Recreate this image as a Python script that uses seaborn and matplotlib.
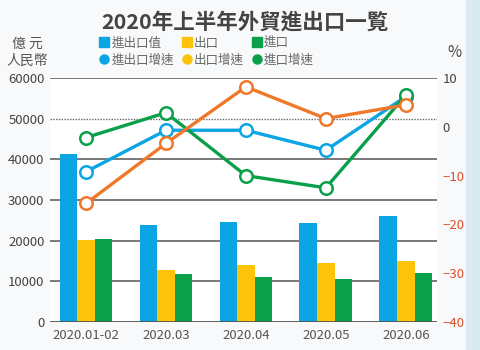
import seaborn as sns
import matplotlib.pyplot as plt
import pandas as pd
from matplotlib.lines import Line2D
from matplotlib.patches import Rectangle

months = ['2020.01-02', '2020.03', '2020.04', '2020.05', '2020.06']
total = [41400, 23800, 24500, 24300, 26000]
exports = [20200, 12700, 14000, 14400, 14900]
imports = [20400, 11700, 11100, 10500, 12000]
total_growth = [-9.2, -0.7, -0.7, -4.8, 6.2]
export_growth = [-15.7, -3.4, 8.2, 1.7, 4.5]
import_growth = [-2.2, 2.9, -10.0, -12.5, 6.5]

blue = '#0aa5e2'
yellow = '#fcc30a'
green = '#0aa049'
orange = '#f0782a'

plt.rcParams['font.family'] = ['Noto Sans CJK TC', 'DejaVu Sans']

bars = pd.DataFrame({'month': months * 3,
                     'value': total + exports + imports,
                     'kind': ['進出口值'] * 5 + ['出口'] * 5 + ['進口'] * 5})

fig = plt.figure(figsize=(4.81, 3.5), dpi=100, facecolor='#f7f9fa')
fig.patches.append(Rectangle((0.968, 0), 0.032, 1, transform=fig.transFigure,
                             color='#dbe9f1', zorder=-5))
ax = fig.add_axes([0.104, 0.08, 0.8045, 0.697])
ax.set_facecolor('white')

sns.barplot(data=bars, x='month', y='value', hue='kind', ax=ax,
            palette=[blue, yellow, green], width=0.66, saturation=1,
            legend=False, zorder=3)

for v in [10000, 20000, 30000, 40000, 60000]:
    ax.axhline(v, color='#555555', lw=1.1, zorder=1)
ax.axhline(50000, color='#666666', lw=1, ls=(0, (1, 1)), zorder=1)
ax.axhline(0, color='#555555', lw=1.3, zorder=4)

ax.set_ylim(0, 60000)
ax.set_xlim(-0.45, 4.39)
ax.set_yticks(range(0, 60001, 10000))
ax.tick_params(axis='y', length=0, labelsize=9.5, labelcolor='#444444', pad=4)
ax.tick_params(axis='x', length=0, labelsize=9.5, labelcolor='#555555', pad=5)
ax.set_xlabel('')
ax.set_ylabel('')
for s in ax.spines.values():
    s.set_visible(False)

ax2 = ax.twinx()
for vals, col in [(total_growth, blue), (import_growth, green), (export_growth, orange)]:
    sns.lineplot(x=list(range(5)), y=vals, ax=ax2, color=col, lw=2.4,
                 marker='o', markersize=9, markerfacecolor='white',
                 markeredgecolor=col, markeredgewidth=1.8, zorder=5)
ax2.set_ylim(-40, 10)
ax2.set_yticks(range(-40, 11, 10))
ax2.tick_params(axis='y', length=0, labelsize=9.5, pad=4)
for lab in ax2.get_yticklabels():
    lab.set_color('#444444' if lab.get_text() in ('0', '10') else '#e0502a')
ax2.set_ylabel('')
for s in ax2.spines.values():
    s.set_visible(False)

fig.text(0.51, 0.937, '2020年上半年外貿進出口一覧', ha='center', va='center',
         fontsize=15.5, fontweight='bold', color='#444444')
fig.text(0.057, 0.85, '億 元\n人民幣', ha='center', va='center', fontsize=10,
         color='#555555', linespacing=1.3)
fig.text(0.945, 0.85, '%', ha='center', va='center', fontsize=11, color='#444444')

handles = [
    Line2D([], [], marker='s', ls='', color=blue, markersize=6.5),
    Line2D([], [], marker='o', ls='', color=blue, markersize=6.5),
    Line2D([], [], marker='s', ls='', color=yellow, markersize=6.5),
    Line2D([], [], marker='o', ls='', color=yellow, markersize=6.5),
    Line2D([], [], marker='s', ls='', color=green, markersize=6.5),
    Line2D([], [], marker='o', ls='', color=green, markersize=6.5),
]
labels = ['進出口值', '進出口增速', '出口', '出口增速', '進口', '進口增速']
fig.legend(handles, labels, ncol=3, loc='center left', bbox_to_anchor=(0.18, 0.853),
           frameon=False, fontsize=9, labelcolor='#666666', handletextpad=0.1,
           columnspacing=0.5, labelspacing=0.3, handlelength=1.0)

fig.savefig('out.png', dpi=100, facecolor=fig.get_facecolor())
